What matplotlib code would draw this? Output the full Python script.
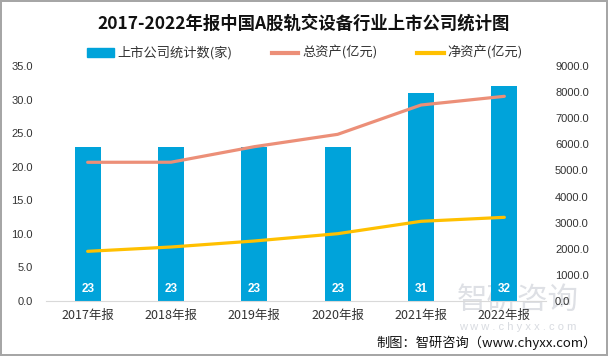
import matplotlib
matplotlib.use('Agg')
from matplotlib import pyplot as plt
from matplotlib.patches import Patch
from matplotlib.lines import Line2D

plt.rcParams['font.family'] = ['Noto Sans CJK SC', 'DejaVu Sans']

years = ['2017年报', '2018年报', '2019年报', '2020年报', '2021年报', '2022年报']
companies = [23, 23, 23, 23, 31, 32]
total_assets = [5312, 5315, 5910, 6383, 7506, 7839]
net_assets = [1903, 2068, 2298, 2578, 3052, 3205]

bar_color = '#00A3DA'
total_color = '#EC8F78'
net_color = '#FFC000'

fig = plt.figure(figsize=(6.08, 3.56), dpi=100)
fig.patch.set_edgecolor('#a6a6a6')
fig.patch.set_linewidth(1.5)
ax = fig.add_axes([46/608, 55/356, 500/608, 235/356])
ax2 = ax.twinx()
ax.set_facecolor('none')
ax2.set_facecolor('none')

x = list(range(len(years)))
ax.bar(x, companies, width=0.31, color=bar_color, zorder=2)
for xi, v in zip(x, companies):
    ax.text(xi, 1.8, str(v), ha='center', va='center', color='white',
            fontsize=8.5, fontweight='bold', family=['Liberation Sans'], zorder=3)

ax2.plot(x, total_assets, color=total_color, lw=2.3, solid_capstyle='round')
ax2.plot(x, net_assets, color=net_color, lw=2.3, solid_capstyle='round')

ax.set_xlim(-0.5, 5.5)
ax.set_ylim(0, 35)
ax2.set_ylim(0, 9000)
ax.set_yticks([0, 5, 10, 15, 20, 25, 30, 35])
ax.set_yticklabels([f'{v:.1f}' for v in [0, 5, 10, 15, 20, 25, 30, 35]],
                   family=['Liberation Sans'], fontsize=8, color='#333333')
ax2.set_yticks(range(0, 9001, 1000))
ax2.set_yticklabels([f'{v:.1f}' for v in range(0, 9001, 1000)],
                    family=['Liberation Sans'], fontsize=8, color='#333333')
ax.set_xticks(x)
ax.set_xticklabels(years, fontsize=9, color='#333333')
ax.tick_params(axis='y', length=0, pad=9.5)
ax.tick_params(axis='x', length=0, pad=6)
ax2.tick_params(axis='y', length=0, pad=6.5)
for a in (ax, ax2):
    for s in a.spines.values():
        s.set_visible(False)
ax.spines['bottom'].set_visible(True)
ax.spines['bottom'].set_color('#d9d9d9')

fig.text(0.5, 1 - 24/356, '2017-2022年报中国A股轨交设备行业上市公司统计图',
         ha='center', va='center', fontsize=12.5, fontweight='bold', color='#111111')

handles = [Patch(color=bar_color, label='上市公司统计数(家)'),
           Line2D([], [], color=total_color, lw=3, label='总资产(亿元)'),
           Line2D([], [], color=net_color, lw=3, label='净资产(亿元)')]
fig.legend(handles=handles, loc='center', bbox_to_anchor=(305/608, 1 - 53/356),
           ncol=3, frameon=False, fontsize=9.5, handlelength=2.0, handleheight=0.6,
           handletextpad=0.3, columnspacing=3.0, labelcolor='#333333')

# watermark, drawn underneath the axes
fig.text(518/608, 1 - 300/356, '智研咨询', ha='center', va='center', fontsize=22,
         color='#c8ccd4', alpha=0.6, zorder=-1)
fig.text(518/608, 1 - 327/356, 'w w w . c h y x x . c o m', ha='center', va='center',
         fontsize=8, color='#c8ccd4', alpha=0.7, family=['Liberation Sans'], zorder=-1)

fig.text(597/608, 1 - 343/356, '制图：智研咨询（www.chyxx.com）', ha='right', va='center',
         fontsize=9.5, color='#111111')

fig.savefig('out.png', dpi=100)
